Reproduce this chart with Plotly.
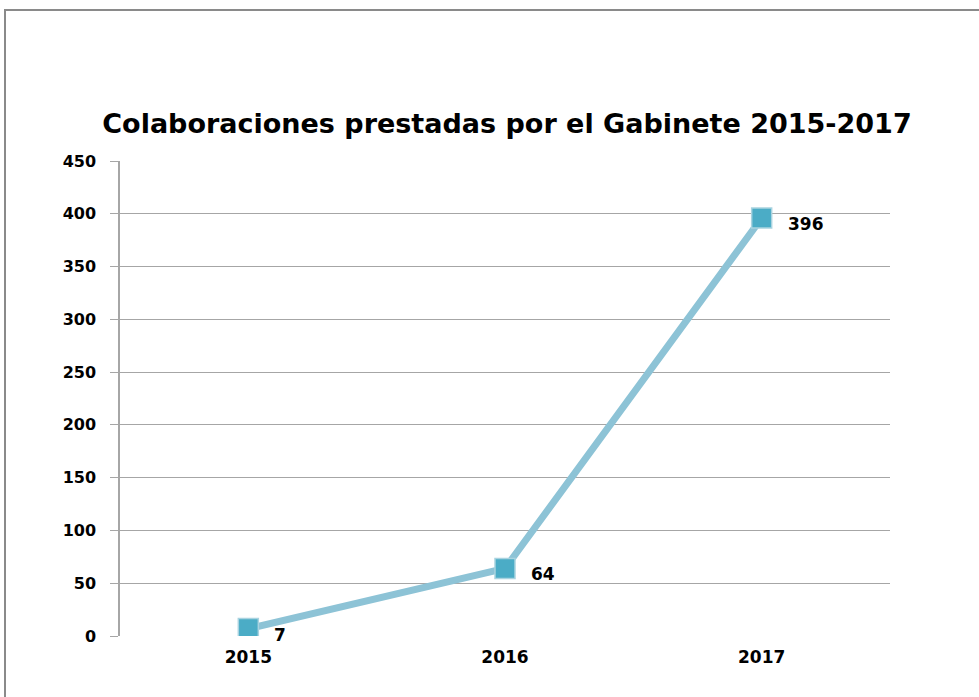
import plotly.graph_objects as go

years = ["2015", "2016", "2017"]
values = [7, 64, 396]
y_ticks = [0, 50, 100, 150, 200, 250, 300, 350, 400, 450]
title_text = "Colaboraciones prestadas por el Gabinete 2015-2017"

W, H = 979, 697
L, R, T, B = 120, 89, 161, 61
pw, ph = W - L - R, H - T - B

fig = go.Figure()
fig.add_trace(go.Scatter(
    x=years, y=values, mode="lines+markers",
    line=dict(color="#8DC3D6", width=7),
    marker=dict(symbol="square", size=20, color="#4BACC6",
                line=dict(color="#A9D3E0", width=1.5)),
    hoverinfo="skip", showlegend=False,
))

for i, yv in enumerate(values):
    fig.add_annotation(x=i, y=yv, xref="x", yref="y", text=str(yv), showarrow=False,
                       xanchor="left", yanchor="middle", xshift=24, yshift=-6,
                       font=dict(family="DejaVu Sans", size=17, color="#000000", weight="bold"))

def px_x(p):
    return (p - L) / pw

def px_y(p):
    return (H - B - p) / ph

# outer frame (left and top edges)
fig.add_shape(type="line", xref="paper", yref="paper",
              x0=px_x(5), x1=px_x(5), y0=px_y(10), y1=px_y(H + 5),
              line=dict(color="#8A8A8A", width=2))
fig.add_shape(type="line", xref="paper", yref="paper",
              x0=px_x(4), x1=px_x(W + 5), y0=px_y(10), y1=px_y(10),
              line=dict(color="#8A8A8A", width=2))

fig.update_layout(
    width=W, height=H,
    margin=dict(l=L, r=R, t=T, b=B),
    paper_bgcolor="white", plot_bgcolor="white",
    title=dict(text=title_text, x=507 / W, xanchor="center",
               y=1 - 124 / H, yanchor="middle",
               font=dict(family="DejaVu Sans", size=27, color="#000000", weight="bold")),
    xaxis=dict(type="category", range=[-0.5, 2.5], showgrid=False,
               showline=False, ticks="", zeroline=False, ticklabelstandoff=9,
               tickfont=dict(family="DejaVu Sans", size=17, color="#000000", weight="bold")),
    yaxis=dict(range=[0, 450], tickvals=y_ticks, showgrid=True,
               gridcolor="#A6A6A6", gridwidth=1,
               showline=True, linecolor="#A6A6A6", linewidth=1.5,
               ticks="outside", ticklen=8, tickcolor="#A6A6A6",
               zeroline=False, ticklabelstandoff=11,
               tickfont=dict(family="DejaVu Sans", size=16, color="#000000", weight="bold")),
)

fig.write_html("out.html", config={"displayModeBar": False},
               post_script="document.body.style.margin='0';")
